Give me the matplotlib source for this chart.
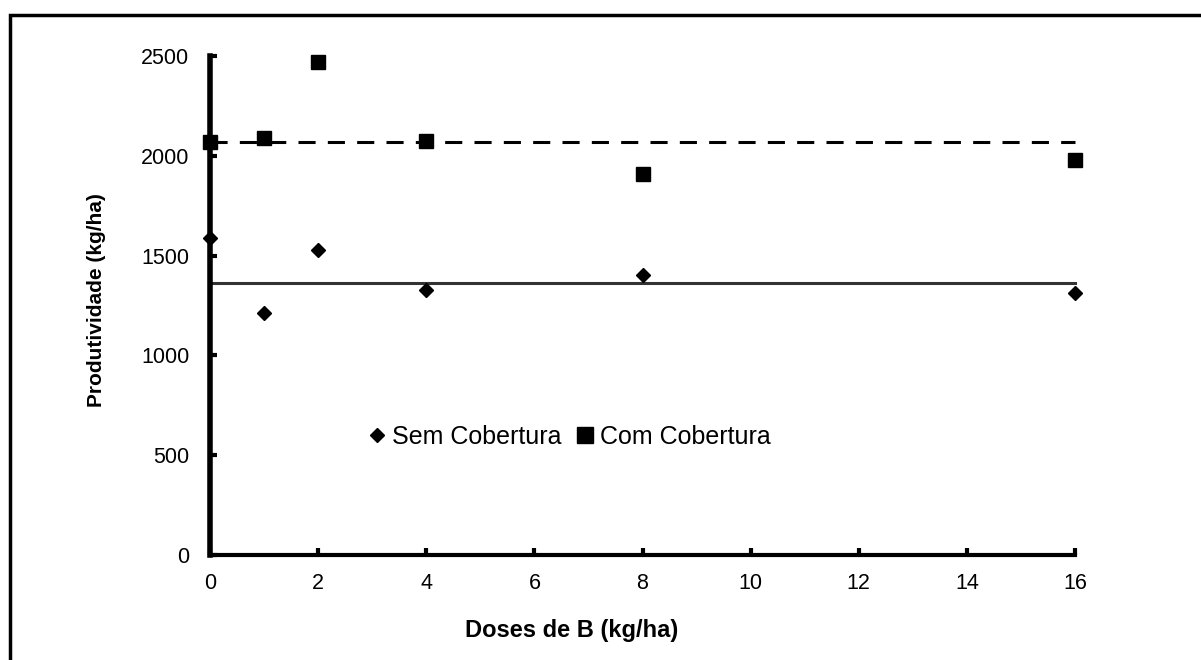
import matplotlib
matplotlib.use("Agg")
import matplotlib.pyplot as plt
from matplotlib.patches import Rectangle

plt.rcParams['font.family'] = ['Liberation Sans', 'DejaVu Sans']

doses = [0, 1, 2, 4, 8, 16]
sem_cobertura = [1590, 1210, 1530, 1330, 1405, 1315]
com_cobertura = [2070, 2090, 2470, 2075, 1910, 1980]
mean_sem = 1365
mean_com = 2070
xticks = [0, 2, 4, 6, 8, 10, 12, 14, 16]
yticks = [0, 500, 1000, 1500, 2000, 2500]

fig = plt.figure(figsize=(12.01, 6.60), dpi=100)
ax = fig.add_axes([210/1201, 1-555/660, (1075-210)/1201, (555-56)/660])

ax.plot([doses[0], doses[-1]], [mean_com, mean_com], color='black', lw=2.2,
        ls=(0, (5.6, 4)), clip_on=False, zorder=2)
ax.plot([doses[0], doses[-1]], [mean_sem, mean_sem], color='#333333', lw=2.2,
        clip_on=False, zorder=2)
ax.plot(doses, sem_cobertura, ls='none', marker='D', ms=7, color='black',
        label='Sem Cobertura', clip_on=False, zorder=3)
ax.plot(doses, com_cobertura, ls='none', marker='s', ms=10.5, color='black',
        label='Com Cobertura', clip_on=False, zorder=3)

ax.set_xlim(0, 16)
ax.set_ylim(0, 2500)
ax.set_xticks(xticks)
ax.set_yticks(yticks)
ax.set_xticklabels([str(t) for t in xticks])
ax.set_yticklabels([str(t) for t in yticks])
for s in ['top', 'right']:
    ax.spines[s].set_visible(False)
ax.spines['left'].set_linewidth(4)
ax.spines['bottom'].set_linewidth(3)
ax.tick_params(axis='both', direction='in', length=5, width=3, labelsize=15.5,
               colors='black')
ax.tick_params(axis='x', pad=13)
ax.tick_params(axis='y', pad=15)

ax.set_xlabel('Doses de B (kg/ha)', fontsize=17, fontweight='bold')
ax.xaxis.set_label_coords((572-210)/865, (555-630)/499)
ax.xaxis.label.set_va('center')
ax.set_ylabel('Produtividade (kg/ha)', fontsize=15, fontweight='bold')
ax.yaxis.set_label_coords((97-210)/865, (555-300)/499)
ax.yaxis.label.set_va('center')

leg = fig.legend(loc='center', bbox_to_anchor=(569/1201, 1-437/660), ncol=2,
                 frameon=False, fontsize=18, handletextpad=0.2,
                 columnspacing=0.55, handlelength=0.8)
handles = leg.legend_handles
handles[0].set_markersize(7.5)
handles[1].set_markersize(12)

fig.patches.append(Rectangle((10/1201, -0.1), 1.2, 1 - 15/660 + 0.1,
                             transform=fig.transFigure, fill=False,
                             lw=2.5, edgecolor='black'))

fig.savefig('out.png', dpi=100)
